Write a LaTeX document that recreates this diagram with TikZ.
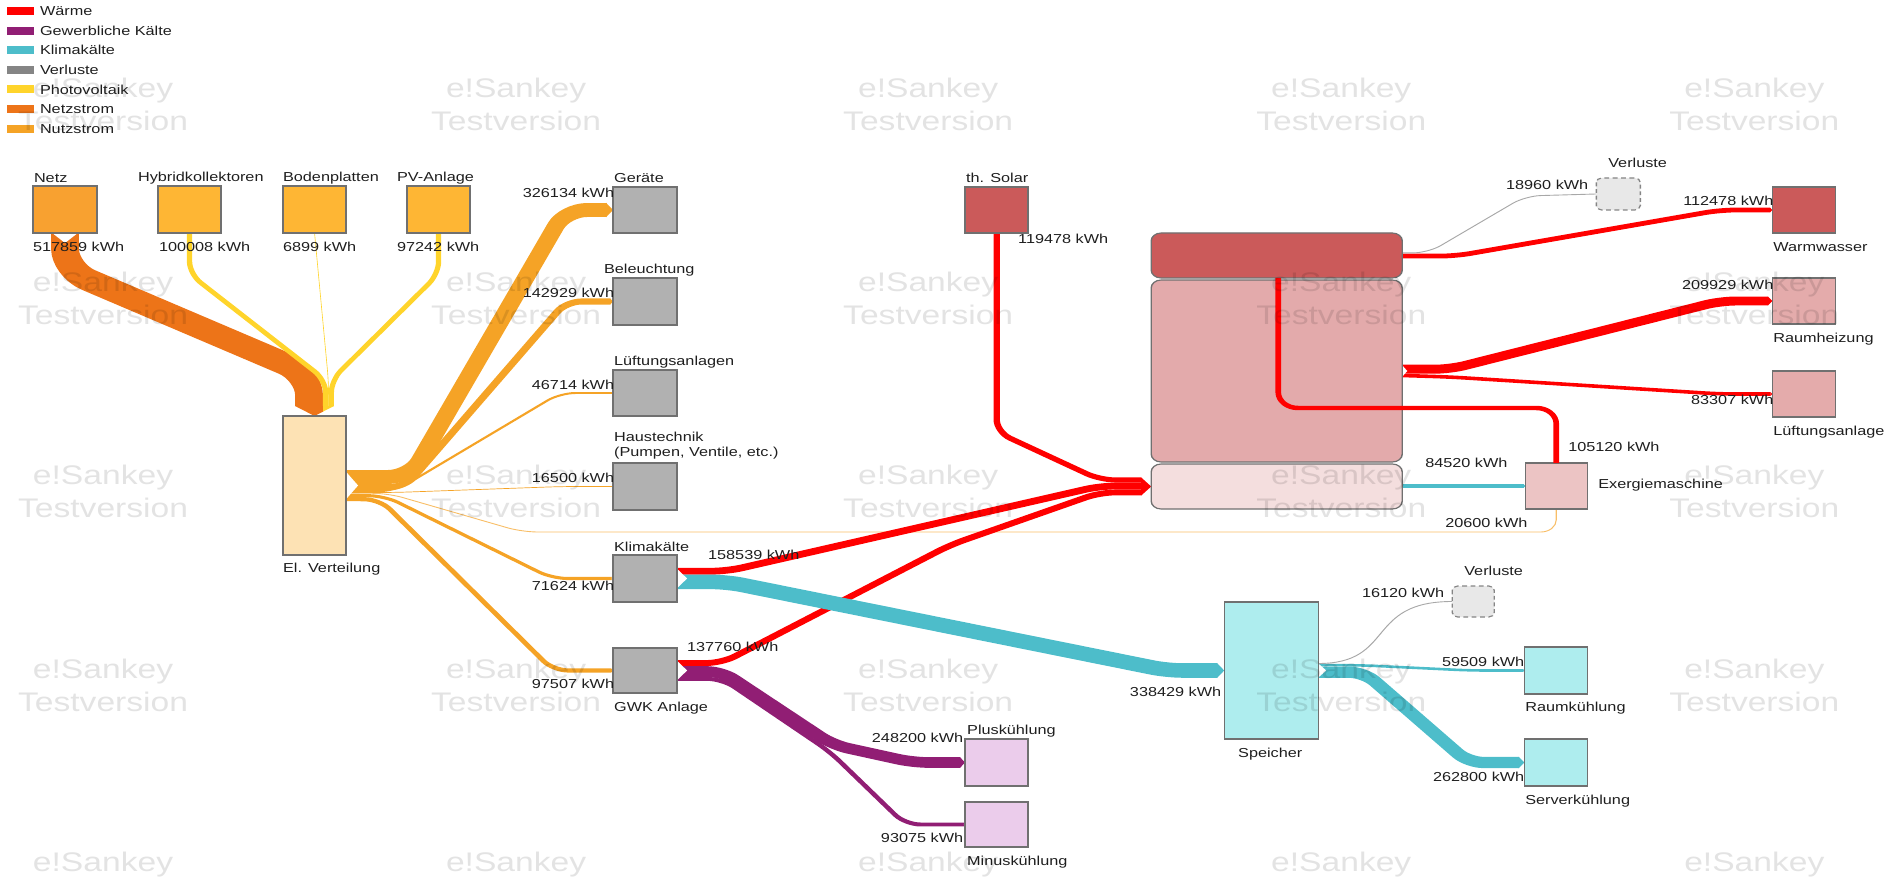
\documentclass[tikz,border=0pt]{standalone}
\usepackage{fontspec}
\setmainfont{Liberation Sans}
\usetikzlibrary{arrows.meta,calc,fit}

\definecolor{waerme}{HTML}{FF0000}
\definecolor{gewk}{HTML}{911E74}
\definecolor{klima}{HTML}{4DBDCA}
\definecolor{lossc}{HTML}{A8A8A8}
\definecolor{legver}{HTML}{858585}
\definecolor{pvc}{HTML}{FFD42B}
\definecolor{netzc}{HTML}{ED7418}
\definecolor{nutz}{HTML}{F5A326}
\definecolor{netzf}{HTML}{F8A130}
\definecolor{srcf}{HTML}{FEB634}
\definecolor{elvf}{HTML}{FDE2B4}
\definecolor{grayf}{HTML}{B1B1B1}
\definecolor{solf}{HTML}{CB5A5A}
\definecolor{sto2f}{HTML}{E3AAAB}
\definecolor{sto3f}{HTML}{F4DEDE}
\definecolor{exmf}{HTML}{ECC4C4}
\definecolor{pinkf}{HTML}{E4ABAB}
\definecolor{plusf}{HTML}{EBCCEB}
\definecolor{spef}{HTML}{AEEDEE}
\definecolor{verf}{HTML}{E8E8E8}
\definecolor{boxline}{HTML}{707070}
\definecolor{txt}{HTML}{1E1E1E}

\tikzset{
  lw/.style={line width=#1*0.5669pt},
  fl/.style={line cap=butt, line join=round, rounded corners=7pt},
  arr/.style={-{Triangle[width=0pt 1,length=0pt 0.4]}},
  bx/.style={draw=boxline, line width=0.65pt, inner sep=0pt, outer sep=0pt},
  stobox/.style={bx, rounded corners=4.5pt},
  lossbox/.style={draw=boxline!85, fill=verf, line width=0.65pt, dash pattern=on 2.2pt off 1.6pt,
                  rounded corners=2.5pt, inner sep=0pt, outer sep=0pt},
  lbl/.style={font=\fontsize{7.4}{8.5}\selectfont, text=txt, inner sep=0pt, outer sep=0pt},
  wm/.style={font=\fontsize{15.3}{17}\selectfont, text=black, text opacity=0.11, inner sep=0pt},
  notch/.style={fill=white},
}

\begin{document}
\begin{tikzpicture}[x=0.02cm, y=-0.02cm]
\useasboundingbox (0,0) rectangle (1903,878);
\begin{scope}[x=0.016cm, transform canvas={xscale=1.25}]
\clip (0,0) rectangle (1903,878);

% ---------- boxes (geometry only, drawn later on top of the flows) ----------
\path
  node[fit={(33,186) (97,233)}, inner sep=0pt, outer sep=0pt] (netz) {}
  node[fit={(158,186) (221,233)}, inner sep=0pt, outer sep=0pt] (hyb) {}
  node[fit={(283,186) (346,233)}, inner sep=0pt, outer sep=0pt] (bod) {}
  node[fit={(407,186) (470,233)}, inner sep=0pt, outer sep=0pt] (pv) {}
  node[fit={(283,416) (346,555)}, inner sep=0pt, outer sep=0pt] (elv) {}
  node[fit={(613,187) (677,233)}, inner sep=0pt, outer sep=0pt] (ger) {}
  node[fit={(613,278) (677,325)}, inner sep=0pt, outer sep=0pt] (bel) {}
  node[fit={(613,370) (677,416)}, inner sep=0pt, outer sep=0pt] (lue) {}
  node[fit={(613,463) (677,510)}, inner sep=0pt, outer sep=0pt] (hau) {}
  node[fit={(613,555) (677,602)}, inner sep=0pt, outer sep=0pt] (kli) {}
  node[fit={(613,648) (677,693)}, inner sep=0pt, outer sep=0pt] (gwk) {}
  node[fit={(965,187) (1028,233)}, inner sep=0pt, outer sep=0pt] (sol) {}
  node[fit={(965,739) (1028,786)}, inner sep=0pt, outer sep=0pt] (plus) {}
  node[fit={(965,802) (1028,847)}, inner sep=0pt, outer sep=0pt] (minus) {}
  node[fit={(1151,233) (1402,278)}, inner sep=0pt, outer sep=0pt] (sto1) {}
  node[fit={(1151,280) (1402,462)}, inner sep=0pt, outer sep=0pt] (sto2) {}
  node[fit={(1151,464) (1402,509)}, inner sep=0pt, outer sep=0pt] (sto3) {}
  node[fit={(1525,463) (1587,509)}, inner sep=0pt, outer sep=0pt] (exm) {}
  node[fit={(1224,602) (1318,739)}, inner sep=0pt, outer sep=0pt] (spe) {}
  node[fit={(1452,586) (1494,617)}, inner sep=0pt, outer sep=0pt] (ver2) {}
  node[fit={(1524,647) (1587,694)}, inner sep=0pt, outer sep=0pt] (rk) {}
  node[fit={(1524,739) (1587,786)}, inner sep=0pt, outer sep=0pt] (sk) {}
  node[fit={(1596,178) (1640,210)}, inner sep=0pt, outer sep=0pt] (ver1) {}
  node[fit={(1772,187) (1835,233)}, inner sep=0pt, outer sep=0pt] (ww) {}
  node[fit={(1772,278) (1835,324)}, inner sep=0pt, outer sep=0pt] (rh) {}
  node[fit={(1772,371) (1835,417)}, inner sep=0pt, outer sep=0pt] (la) {};

% ---------- electricity flows ----------
\draw[fl, lw=0.9, nutz!70] (elv.east |- 0,493.3) -- (388,493.3) -- (522,532) -- (1556,532) -- (exm.south);
\draw[fl, lw=22.3, netzc, rounded corners=12pt, shorten >=5.67pt] (netz.south) -- (65,270) -- (309,374) -- (elv.north -| 309,0);
\draw[fl, lw=4.3, pvc, shorten >=5.67pt] (hyb.south) -- (189.5,274) -- (325.6,380) -- (elv.north -| 325.6,0);
\draw[fl, lw=0.5, pvc, shorten >=5.67pt] (bod.south) -- (328.5,382) -- (elv.north -| 328.5,0);
\draw[fl, lw=4.2, pvc, shorten >=5.67pt] (pv.south) -- (438.5,274) -- (331.3,380) -- (elv.north -| 331.3,0);
\fill[netzc] ($(elv.north)+(-19.5,-10)$) -- (elv.north) -- ($(elv.north)+(8.5,-4.4)$) -- ($(elv.north)+(8.5,-10)$) -- cycle;
\fill[pvc] ($(elv.north)+(8.5,-10)$) -- ($(elv.north)+(8.5,-4.4)$) -- ($(elv.north)+(19.5,-10)$) -- cycle;

\draw[fl, lw=14, nutz, arr, rounded corners=10pt] (elv.east |- 0,477) -- (410,477) -- (565,210) -- (ger.west);
\draw[fl, lw=6.1, nutz, arr] (elv.east |- 0,487.1) -- (405,487.1) -- (566,301.5) -- (bel.west);
\draw[fl, lw=2, nutz, arr] (elv.east |- 0,491.1) -- (395,491.1) -- (560,393) -- (lue.west);
\draw[fl, lw=0.7, nutz, arr] (elv.east |- 0,492.5) -- (395,492.5) -- (562,486.5) -- (hau.west);
\draw[fl, lw=3.1, nutz, arr] (elv.east |- 0,495.3) -- (385,496) -- (552,578.5) -- (kli.west);
\draw[fl, lw=4.2, nutz, arr] (elv.east |- 0,498.9) -- (380,499.5) -- (553,670.5) -- (gwk.west);

% ---------- heat flows ----------
\draw[fl, lw=5.1, waerme, shorten >=4.5pt] (sol.south) -- (996.5,432) -- (1100,480) -- (sto3.west |- 0,480);
\draw[fl, lw=6.8, waerme, shorten >=4.5pt] (kli.east |- 0,571.2) -- (727,571.2) -- (1100,486) -- (sto3.west |- 0,486);
\draw[fl, lw=5.9, waerme, shorten >=4.5pt] (gwk.east |- 0,663) -- (722,663) -- (950,545) -- (1100,492.4) -- (sto3.west |- 0,492.4);
\fill[waerme] ($(sto3.west)+(-10,-9)$) -- (sto3.west) -- ($(sto3.west)+(-10,9)$) -- cycle;

\draw[fl, lw=4.8, waerme, arr] (sto1.east |- 0,256.1) -- (1455,256.1) -- (1720,210) -- (ww.west);
\draw[fl, lw=9, waerme, arr] (sto2.east |- 0,369.2) -- (1450,369.2) -- (1720,301) -- (rh.west);
\draw[fl, lw=3.6, waerme, arr] (sto2.east |- 0,375.5) -- (1450,377) -- (1720,394) -- (la.west);

% ---------- cooling flows ----------
\draw[fl, lw=14.6, klima, arr] (kli.east |- 0,581.9) -- (727,581.9) -- (1167,670.5) -- (spe.west);
\draw[fl, lw=3.6, klima, arr] (sto3.east |- exm.west) -- (exm.west);
\draw[fl, lw=2.6, klima, arr] (spe.east |- 0,665.2) -- (1360,665.2) -- (1470,670.5) -- (rk.west);
\draw[fl, lw=11.3, klima, arr] (spe.east |- 0,672.2) -- (1364,672.2) -- (1468,762.5) -- (sk.west);

\draw[fl, lw=10.7, gewk, arr] (gwk.east |- 0,671.5) -- (722,671.5) -- (833,745) -- (913,762.5) -- (plus.west);
\draw[fl, lw=4, gewk, arr] (gwk.east |- 0,678.8) -- (722,678.8) -- (830,752) -- (905,824.5) -- (minus.west);

% ---------- losses ----------
\draw[fl, lw=0.9, lossc] (sto1.east |- 0,252.9) -- (1428,252.9) -- (1525,196) -- (ver1.west);
\draw[lw=0.9, lossc] (spe.east |- 0,663.5) .. controls (1395,663.5) and (1365,601.5) .. (ver2.west);

% ---------- notched flow tails ----------
\fill[notch] ($(netz.south)+(-12,0.6)$) -- ($(netz.south)+(0,10)$) -- ($(netz.south)+(12,0.6)$) -- cycle;
\fill[notch] ($(elv.east)+(0.6,-13)$) -- ($(elv.east)+(12,0)$) -- ($(elv.east)+(0.6,13)$) -- cycle;
\fill[notch] ($(kli.east)+(0.6,-9)$) -- ($(kli.east)+(10,0)$) -- ($(kli.east)+(0.6,9)$) -- cycle;
\fill[notch] ($(gwk.east)+(0.6,-9)$) -- ($(gwk.east)+(10,0)$) -- ($(gwk.east)+(0.6,9)$) -- cycle;
\fill[notch] ($(spe.east)+(0.6,-6.5)$) -- ($(spe.east)+(8,0)$) -- ($(spe.east)+(0.6,6.5)$) -- cycle;
\fill[notch] ($(sto2.east)+(0.6,-5)$) -- ($(sto2.east)+(5,0)$) -- ($(sto2.east)+(0.6,5)$) -- cycle;

% ---------- boxes ----------
\draw[bx, fill=netzf] (netz.north west) rectangle (netz.south east);
\foreach \b in {hyb,bod,pv} \draw[bx, fill=srcf] (\b.north west) rectangle (\b.south east);
\draw[bx, fill=elvf] (elv.north west) rectangle (elv.south east);
\foreach \b in {ger,bel,lue,hau,kli,gwk} \draw[bx, fill=grayf] (\b.north west) rectangle (\b.south east);
\foreach \b in {sol,ww} \draw[bx, fill=solf] (\b.north west) rectangle (\b.south east);
\foreach \b in {rh,la} \draw[bx, fill=pinkf] (\b.north west) rectangle (\b.south east);
\draw[bx, fill=exmf] (exm.north west) rectangle (exm.south east);
\foreach \b in {plus,minus} \draw[bx, fill=plusf] (\b.north west) rectangle (\b.south east);
\foreach \b in {spe,rk,sk} \draw[bx, fill=spef] (\b.north west) rectangle (\b.south east);
\draw[stobox, fill=solf] (sto1.north west) rectangle (sto1.south east);
\draw[stobox, fill=sto2f] (sto2.north west) rectangle (sto2.south east);
\draw[stobox, fill=sto3f] (sto3.north west) rectangle (sto3.south east);
\foreach \b in {ver1,ver2} \draw[lossbox] (\b.north west) rectangle (\b.south east);

% heat from the exergy machine back into the upper storage layer
\draw[fl, lw=4.5, waerme, rounded corners=9pt] (exm.north) -- (1556,408) -- (1278,408) -- (sto1.south -| 1278,0);

% ---------- labels ----------
\node[lbl, anchor=west] (t-netz) at (34,178) {Netz};
\node[lbl, anchor=west] (t-hyb) at (138,178) {Hybridkollektoren};
\node[lbl, anchor=west] (t-bod) at (283,178) {Bodenplatten};
\node[lbl, anchor=west] (t-pv) at (397,178) {PV-Anlage};
\node[lbl, anchor=west] (v-netz) at (33,247) {517859 kWh};
\node[lbl, anchor=west] (v-hyb) at (159,247) {100008 kWh};
\node[lbl, anchor=west] (v-bod) at (283,247) {6899 kWh};
\node[lbl, anchor=west] (v-pv) at (397,247) {97242 kWh};
\node[lbl, anchor=west] (t-elv) at (283,569) {El. Verteilung};

\node[lbl, anchor=west] (t-ger) at (614,178) {Geräte};
\node[lbl, anchor=east] (v-ger) at (614,193) {326134 kWh};
\node[lbl, anchor=west] (t-bel) at (604,270) {Beleuchtung};
\node[lbl, anchor=east] (v-bel) at (614,293) {142929 kWh};
\node[lbl, anchor=west] (t-lue) at (614,362) {Lüftungsanlagen};
\node[lbl, anchor=east] (v-lue) at (614,385) {46714 kWh};
\node[lbl, anchor=west, align=left] (t-hau) at (614,445.5) {Haustechnik\\(Pumpen, Ventile, etc.)};
\node[lbl, anchor=east] (v-hau) at (614,478) {16500 kWh};
\node[lbl, anchor=west] (t-kli) at (614,547) {Klimakälte};
\node[lbl, anchor=east] (v-kli) at (614,586) {71624 kWh};
\node[lbl, anchor=west] (t-gwk) at (614,708) {GWK Anlage};
\node[lbl, anchor=east] (v-gwk) at (614,684) {97507 kWh};
\node[lbl, anchor=west] (v-kliw) at (708,555) {158539 kWh};
\node[lbl, anchor=west] (v-gwkw) at (687,647) {137760 kWh};

\node[lbl, anchor=west] (t-sol) at (966,178) {th. Solar};
\node[lbl, anchor=west] (v-sol) at (1018,239) {119478 kWh};
\node[lbl, anchor=west] (t-plus) at (967,731) {Pluskühlung};
\node[lbl, anchor=east] (v-plus) at (963,738) {248200 kWh};
\node[lbl, anchor=west] (t-minus) at (967,862) {Minuskühlung};
\node[lbl, anchor=east] (v-minus) at (963,838) {93075 kWh};

\node[lbl] (t-spe) at (1270,754) {Speicher};
\node[lbl, anchor=east] (v-spe) at (1221,692) {338429 kWh};
\node[lbl, anchor=west] (t-ver2) at (1464,571) {Verluste};
\node[lbl, anchor=east] (v-ver2) at (1444,593) {16120 kWh};
\node[lbl, anchor=east] (v-rk) at (1524,662) {59509 kWh};
\node[lbl, anchor=west] (t-rk) at (1525,708) {Raumkühlung};
\node[lbl, anchor=east] (v-sk) at (1524,777) {262800 kWh};
\node[lbl, anchor=west] (t-sk) at (1525,801) {Serverkühlung};

\node[lbl, anchor=west] (t-ver1) at (1608,163) {Verluste};
\node[lbl, anchor=east] (v-ver1) at (1588,185) {18960 kWh};
\node[lbl, anchor=east] (v-ww) at (1773,201) {112478 kWh};
\node[lbl, anchor=west] (t-ww) at (1773,247) {Warmwasser};
\node[lbl, anchor=east] (v-rh) at (1773,285) {209929 kWh};
\node[lbl, anchor=west] (t-rh) at (1773,339) {Raumheizung};
\node[lbl, anchor=east] (v-la) at (1773,400) {83307 kWh};
\node[lbl, anchor=west] (t-la) at (1773,432) {Lüftungsanlage};
\node[lbl, anchor=west] (v-exh) at (1568,447) {105120 kWh};
\node[lbl, anchor=west] (v-exk) at (1425,463) {84520 kWh};
\node[lbl, anchor=west] (v-exe) at (1445,523) {20600 kWh};
\node[lbl, anchor=west] (t-exm) at (1598,485) {Exergiemaschine};

% ---------- legend ----------
\foreach \col/\name [count=\i from 0] in {waerme/Wärme, gewk/Gewerbliche Kälte, klima/Klimakälte,
    legver/Verluste, pvc/Photovoltaik, netzc/Netzstrom, nutz/Nutzstrom}{
  \fill[\col] (7,{7+19.6*\i}) rectangle (34,{15+19.6*\i});
  \node[lbl, anchor=west] (leg-\i) at (40,{11+19.6*\i}) {\name};
}

% ---------- watermark grid ----------
\foreach \cx [count=\i] in {103,516,928,1341,1754}{
  \foreach \ry [count=\j] in {91,284.5,478,671.5}{
    \node[wm] (wm-\i-\j-a) at (\cx,\ry) {e!Sankey};
    \node[wm] (wm-\i-\j-b) at (\cx,\ry+30) {Testversion};
  }
  \node[wm] (wm-\i-5-a) at (\cx,865) {e!Sankey};
}
\end{scope}
\end{tikzpicture}
\end{document}
